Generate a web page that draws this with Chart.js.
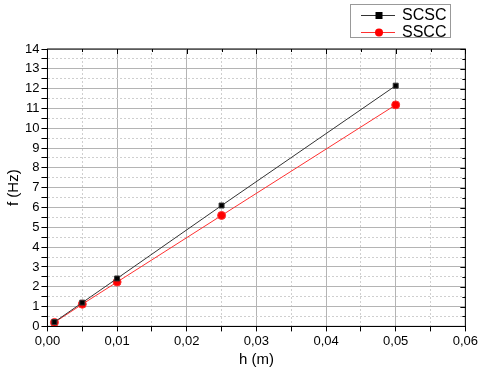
<!DOCTYPE html>
<html>
<head>
<meta charset="utf-8">
<script src="https://cdn.jsdelivr.net/npm/chart.js@4/dist/chart.umd.min.js"></script>
<style>
  html, body { margin: 0; padding: 0; background: #fff; }
  #wrap { width: 480px; height: 371px; }
</style>
</head>
<body>
<div id="wrap"><canvas id="canvas" width="480" height="371"></canvas></div>
<script>
// data
var h = [0.001, 0.005, 0.01, 0.025, 0.05];
var scsc = [0.22, 1.2, 2.42, 6.1, 12.15];
var sscc = [0.2, 1.12, 2.24, 5.6, 11.18];
var labels = ['SCSC', 'SSCC'];

function pts(ys) {
    return h.map(function (x, i) { return { x: x, y: ys[i] }; });
}

function isMajorX(v) { return Math.abs(Math.round(v * 100) - v * 100) < 1e-6; }
function isMajorY(v) { return Math.abs(Math.round(v) - v) < 1e-6; }

// box round the plot, inward ticks on top/right, and the legend box
var frame = {
    id: 'frame',
    afterDraw: function (chart) {
        var c = chart.ctx, a = chart.chartArea;
        c.save();
        c.strokeStyle = '#000';
        c.lineWidth = 1;
        c.strokeRect(a.left, a.top, a.right - a.left, a.bottom - a.top);

        c.beginPath();
        chart.scales.x.ticks.forEach(function (t) {
            var px = Math.round(chart.scales.x.getPixelForValue(t.value)) + 0.5;
            var len = isMajorX(t.value) ? 5 : 3;
            c.moveTo(px, a.top);
            c.lineTo(px, a.top + len);
        });
        chart.scales.y.ticks.forEach(function (t) {
            var py = Math.round(chart.scales.y.getPixelForValue(t.value)) + 0.5;
            var len = isMajorY(t.value) ? 5 : 3;
            c.moveTo(a.right, py);
            c.lineTo(a.right - len, py);
        });
        c.stroke();

        // legend
        var bx = 350, by = 4, bw = 100, bh = 33;
        c.strokeStyle = '#999';
        c.strokeRect(bx + 0.5, by + 0.5, bw, bh);
        chart.data.datasets.forEach(function (ds, i) {
            var y = by + 11 + i * 17;
            c.strokeStyle = ds.borderColor;
            c.lineWidth = 1;
            c.beginPath();
            c.moveTo(bx + 11, y + 0.5);
            c.lineTo(bx + 45, y + 0.5);
            c.stroke();
            c.fillStyle = ds.backgroundColor;
            if (ds.pointStyle === 'rect') {
                c.fillRect(bx + 25.5, y - 3, 7, 7);
            } else {
                c.beginPath();
                c.arc(bx + 29, y + 0.5, 4, 0, Math.PI * 2);
                c.fill();
            }
            c.fillStyle = '#000';
            c.font = '16px "Liberation Sans", Arial, sans-serif';
            c.textBaseline = 'middle';
            c.fillText(ds.label, bx + 52, y + 1);
        });
        c.restore();
    }
};

const ctx = document.getElementById('canvas');
const myChart = new Chart(ctx, {
    type: 'scatter',
    data: {
        datasets: [{
            label: labels[0],
            data: pts(scsc),
            showLine: true,
            borderColor: '#333',
            backgroundColor: '#000',
            borderWidth: 1,
            pointStyle: 'rect',
            pointRadius: 3.5,
            pointHoverRadius: 3.5
        }, {
            label: labels[1],
            data: pts(sscc),
            showLine: true,
            borderColor: '#ff3030',
            backgroundColor: '#ff0000',
            borderWidth: 1,
            pointStyle: 'circle',
            pointRadius: 4,
            pointHoverRadius: 4
        }]
    },
    options: {
        responsive: false,
        animation: false,
        layout: { padding: { left: 5, right: 10, top: 49, bottom: 2 } },
        plugins: { legend: { display: false }, tooltip: { enabled: false } },
        scales: {
            x: {
                type: 'linear',
                min: 0,
                max: 0.06,
                ticks: {
                    stepSize: 0.005,
                    autoSkip: false,
                    maxRotation: 0,
                    padding: 2,
                    color: '#000',
                    font: { family: '"Liberation Sans", Arial, sans-serif', size: 13 },
                    callback: function (v) {
                        return isMajorX(v) ? v.toFixed(2).replace('.', ',') : '';
                    }
                },
                grid: {
                    color: function (c) { return isMajorX(c.tick.value) ? '#b4b4b4' : '#cfcfcf'; },
                    lineWidth: 1,
                    tickColor: '#000',
                    tickLength: 5
                },
                border: {
                    color: '#000',
                    dash: function (c) { return (c.tick && !isMajorX(c.tick.value)) ? [2, 2] : []; }
                },
                title: {
                    display: true,
                    text: 'h (m)',
                    color: '#000',
                    font: { family: '"Liberation Sans", Arial, sans-serif', size: 15 },
                    padding: { top: 0, bottom: 0 }
                }
            },
            y: {
                min: 0,
                max: 14,
                ticks: {
                    stepSize: 0.5,
                    autoSkip: false,
                    padding: 2,
                    color: '#000',
                    font: { family: '"Liberation Sans", Arial, sans-serif', size: 13 },
                    callback: function (v) { return isMajorY(v) ? String(v) : ''; }
                },
                grid: {
                    color: function (c) { return isMajorY(c.tick.value) ? '#b4b4b4' : '#cfcfcf'; },
                    lineWidth: 1,
                    tickColor: '#000',
                    tickLength: 6
                },
                border: {
                    color: '#000',
                    dash: function (c) { return (c.tick && !isMajorY(c.tick.value)) ? [2, 2] : []; }
                },
                title: {
                    display: true,
                    text: 'f (Hz)',
                    color: '#000',
                    font: { family: '"Liberation Sans", Arial, sans-serif', size: 15 },
                    padding: { top: 0, bottom: 0 }
                }
            }
        }
    },
    plugins: [frame]
});
</script>
</body>
</html>
